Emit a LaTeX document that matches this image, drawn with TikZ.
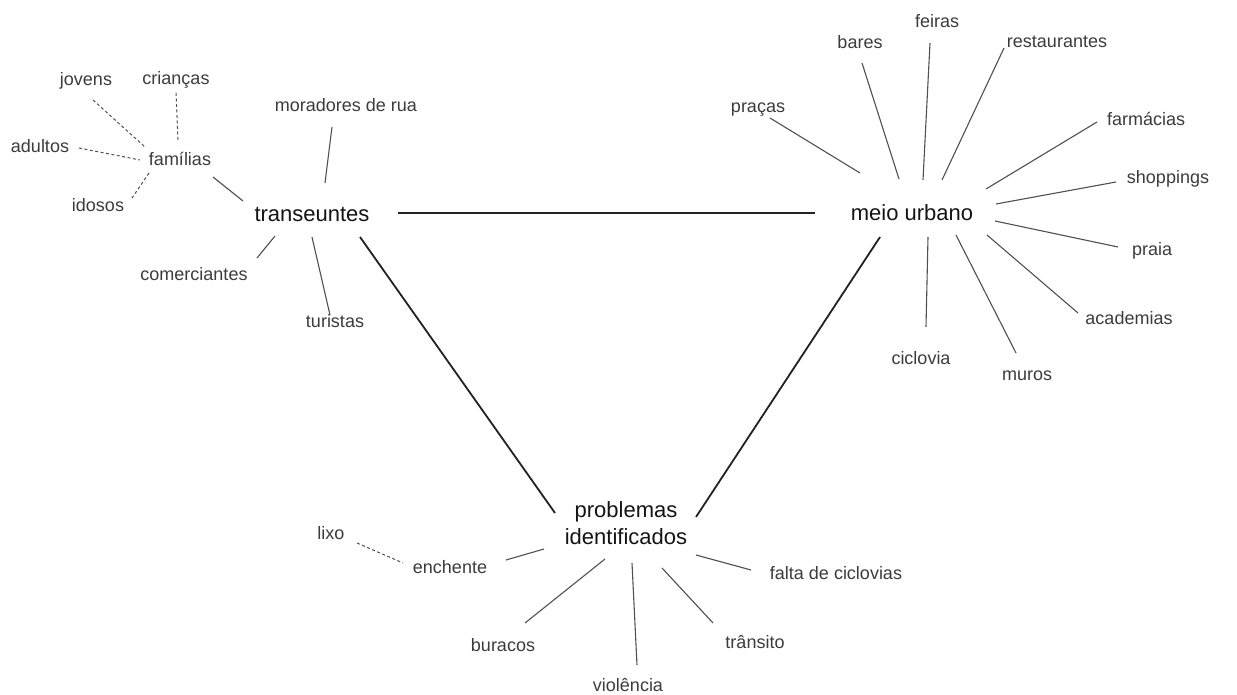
\documentclass[tikz,border=0pt]{standalone}
\usepackage{fontspec}
\setmainfont{Liberation Sans}
\definecolor{lblgray}{HTML}{3C3C3C}
\definecolor{linegray}{HTML}{505050}
\definecolor{maingray}{HTML}{222222}
\begin{document}
\begin{tikzpicture}[x=1pt,y=-1pt,
  lbl/.style={font=\fontsize{18}{21}\selectfont, text=lblgray, inner sep=0pt, text height=12pt, text depth=0pt},
  hub/.style={font=\fontsize{22}{27}\selectfont, text=black!92, inner sep=0pt, align=center},
  spoke/.style={draw=linegray, line width=1.1pt},
  dashspoke/.style={draw=linegray, line width=1pt, dash pattern=on 3pt off 2.5pt},
  mainline/.style={draw=maingray, line width=1.8pt}]
\useasboundingbox[fill=white] (0,0) rectangle (1237,695);

% hubs
\node[hub, text height=17pt, text depth=0pt] (tra) at (312,213) {transeuntes};
\node[hub, text height=17pt, text depth=0pt] (mu) at (912,212) {meio urbano};
\node[hub] (pb) at (626,523) {problemas\\identificados};

% transeuntes side
\node[lbl] (jov) at (86,80) {jovens};
\node[lbl] (cri) at (176,79) {crianças};
\node[lbl] (adu) at (40,147) {adultos};
\node[lbl] (fam) at (180,160) {famílias};
\node[lbl] (ido) at (98,206) {idosos};
\node[lbl] (mor) at (346,106) {moradores de rua};
\node[lbl] (com) at (194,274) {comerciantes};
\node[lbl] (tur) at (335,321) {turistas};

% meio urbano side
\node[lbl] (pra) at (758,107) {praças};
\node[lbl] (bar) at (860,43) {bares};
\node[lbl] (fei) at (937,22) {feiras};
\node[lbl] (res) at (1057,42) {restaurantes};
\node[lbl] (far) at (1146,120) {farmácias};
\node[lbl] (sho) at (1168,178) {shoppings};
\node[lbl] (pri) at (1152,249) {praia};
\node[lbl] (aca) at (1129,318) {academias};
\node[lbl] (cic) at (921,358) {ciclovia};
\node[lbl] (mur) at (1027,374) {muros};

% problemas side
\node[lbl] (lix) at (331,533) {lixo};
\node[lbl] (enc) at (450,567) {enchente};
\node[lbl] (bur) at (503,645) {buracos};
\node[lbl] (vio) at (628,685) {violência};
\node[lbl] (tsi) at (755,642) {trânsito};
\node[lbl] (fal) at (836,573) {falta de ciclovias};

% main triangle
\draw[mainline] ([shift={(86,0)}]tra.center) -- ([shift={(-97,1)}]mu.center);
\draw[mainline] ([shift={(48,24)}]tra.center) -- ([shift={(-71,-10)}]pb.center);
\draw[mainline] ([shift={(-32,25)}]mu.center) -- ([shift={(70,-6)}]pb.center);

% dashed
\draw[dashspoke] ([shift={(7,20)}]jov.center) -- ([shift={(-35,-13)}]fam.center);
\draw[dashspoke] ([shift={(0,14)}]cri.center) -- ([shift={(-2,-20)}]fam.center);
\draw[dashspoke] ([shift={(39,1)}]adu.center) -- ([shift={(-40,0)}]fam.center);
\draw[dashspoke] ([shift={(-31,13)}]fam.center) -- ([shift={(34,-8)}]ido.center);
\draw[dashspoke] ([shift={(26,10)}]lix.center) -- ([shift={(-47,-4)}]enc.center);

% transeuntes spokes
\draw[spoke] ([shift={(33,17)}]fam.center) -- ([shift={(-69,-12)}]tra.center);
\draw[spoke] ([shift={(-14,21)}]mor.center) -- ([shift={(13,-30)}]tra.center);
\draw[spoke] ([shift={(-37,23)}]tra.center) -- ([shift={(63,-16)}]com.center);
\draw[spoke] ([shift={(0,24)}]tra.center) -- ([shift={(-5,-6)}]tur.center);

% meio urbano spokes
\draw[spoke] ([shift={(12,11)}]pra.center) -- ([shift={(-52,-39)}]mu.center);
\draw[spoke] ([shift={(2,20)}]bar.center) -- ([shift={(-13,-33)}]mu.center);
\draw[spoke] ([shift={(-7,21)}]fei.center) -- ([shift={(11,-32)}]mu.center);
\draw[spoke] ([shift={(-53,6)}]res.center) -- ([shift={(30,-32)}]mu.center);
\draw[spoke] ([shift={(-49,2)}]far.center) -- ([shift={(74,-23)}]mu.center);
\draw[spoke] ([shift={(-52,4)}]sho.center) -- ([shift={(84,-8)}]mu.center);
\draw[spoke] ([shift={(-34,-2)}]pri.center) -- ([shift={(83,9)}]mu.center);
\draw[spoke] ([shift={(-51,-5)}]aca.center) -- ([shift={(75,23)}]mu.center);
\draw[spoke] ([shift={(-11,-21)}]mur.center) -- ([shift={(44,23)}]mu.center);
\draw[spoke] ([shift={(5,-31)}]cic.center) -- ([shift={(16,25)}]mu.center);

% problemas spokes
\draw[spoke] ([shift={(56,-7)}]enc.center) -- ([shift={(-82,26)}]pb.center);
\draw[spoke] ([shift={(22,-22)}]bur.center) -- ([shift={(-21,36)}]pb.center);
\draw[spoke] ([shift={(6,40)}]pb.center) -- ([shift={(9,-20)}]vio.center);
\draw[spoke] ([shift={(36,45)}]pb.center) -- ([shift={(-42,-19)}]tsi.center);
\draw[spoke] ([shift={(70,32)}]pb.center) -- ([shift={(-85,-3)}]fal.center);
\end{tikzpicture}
\end{document}
